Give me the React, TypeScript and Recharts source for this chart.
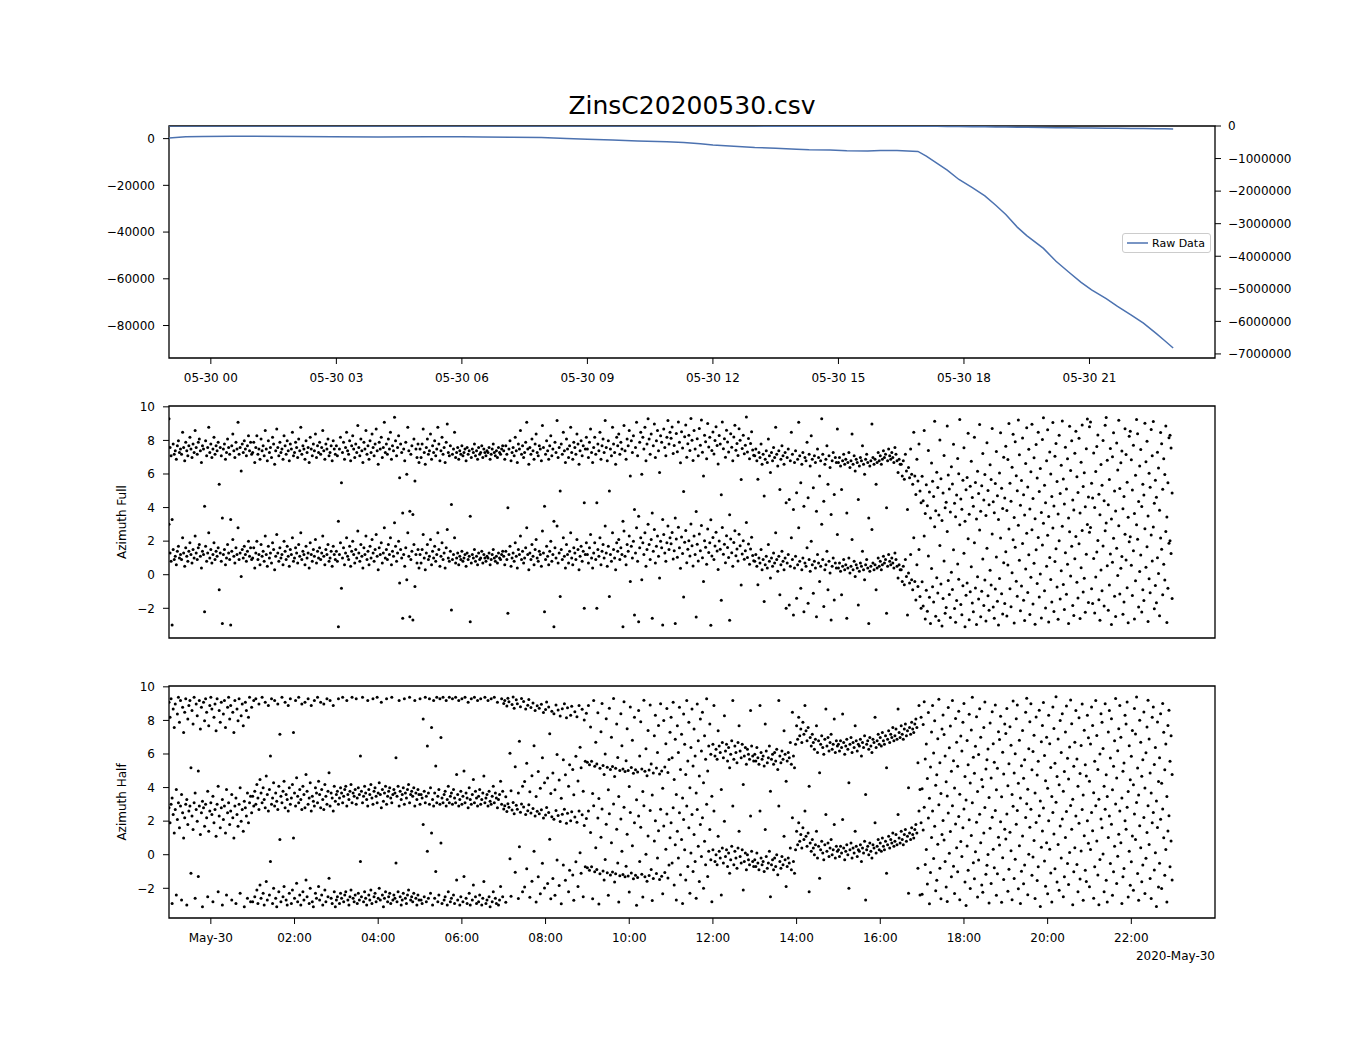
import React from 'react';
import {
  ComposedChart,
  Line,
  ScatterChart,
  Scatter,
  XAxis,
  YAxis,
  ReferenceArea,
  Legend,
} from 'recharts';

const FONT = '"DejaVu Sans", "Liberation Sans", sans-serif';
const TITLE = 'ZinsC20200530.csv';
const LINE_COLOR = '#4c72b0';
const SERIES_NAME = 'Raw Data';

// x axis: hours relative to 2020-05-30 00:00
const X_DOMAIN: [number, number] = [-1, 24];
const TOP_X_TICKS = [0, 3, 6, 9, 12, 15, 18, 21];
const TOP_X_LABELS = ['05-30 00', '05-30 03', '05-30 06', '05-30 09', '05-30 12', '05-30 15', '05-30 18', '05-30 21'];
const AZ_X_TICKS = [0, 2, 4, 6, 8, 10, 12, 14, 16, 18, 20, 22];
const AZ_X_LABELS = ['May-30', '02:00', '04:00', '06:00', '08:00', '10:00', '12:00', '14:00', '16:00', '18:00', '20:00', '22:00'];
const AZ_X_OFFSET_LABEL = '2020-May-30';

const LEFT_TICKS = [0, -20000, -40000, -60000, -80000];
const RIGHT_TICKS = [0, -1000000, -2000000, -3000000, -4000000, -5000000, -6000000, -7000000];
const AZ_Y_TICKS = [-2, 0, 2, 4, 6, 8, 10];
const LEFT_DOMAIN: [number, number] = [-93900, 5400];
const RIGHT_DOMAIN: [number, number] = [-7125000, 0];
const AZ_DOMAIN: [number, number] = [-3.77, 10.05];

// Raw data line (hour, value)
const rawHours = [
  -1.0, -0.6, -0.2, 0.5, 1.0, 2.0, 2.9, 4.0, 5.2, 6.0, 6.5, 7.2, 7.9, 8.5, 9.0, 9.6, 10.2, 10.9, 11.3, 11.7,
  12.0, 12.5, 13.0, 13.5, 14.0, 14.3, 14.8, 15.2, 15.7, 16.0, 16.4, 16.9, 17.1, 17.35, 17.6, 17.88, 18.2, 18.5,
  18.76, 19.0, 19.28, 19.5, 19.9, 20.2, 20.53, 20.8, 21.05, 21.4, 21.67, 22.0, 22.29, 22.6, 22.8, 23.0,
];
const rawValues = [
  300, 800, 900, 1000, 1050, 950, 750, 700, 800, 750, 700, 600, 450, 100, -300, -600, -1000, -1300, -1700, -2200,
  -2700, -3300, -3800, -4100, -4500, -4800, -4900, -5200, -5300, -5100, -5100, -5500, -7500, -10500, -13500, -17500,
  -21000, -24500, -28500, -32500, -38000, -41500, -47000, -52500, -57500, -61500, -64700, -68500, -71800, -75500,
  -79000, -83500, -86500, -89600,
];

// Azimuth Full: base angles (rad), one array per 2-hour block starting 23:00
const fullAz0 = [3.0, 1.3, 0.8, -3.0, 1.5, 0.9, 1.1, 0.6, 1.4, 1.7, 1.0, 1.2, 0.9, 2.2, 1.3, 0.5, 1.6, 1.1, 0.8, 1.4, 1.9, 1.2, 0.7, 1.5, 1.0, 2.3, 1.3, 0.9, 1.6, 1.8, 1.1, 0.4, 1.4, 1.2, -2.2, 1.7, 0.8, 1.3, 2.5, 1.0, 1.5, 0.7, 1.2, 1.9, 0.9, 1.4, 1.1, 1.6, -0.9, 1.3, 0.8, -2.9, 1.2, 1.5, 0.6, 1.0, 1.8, 1.3, 0.9, -3.0, 1.4, 2.1, 1.1, 0.7, 1.6, 1.2, 2.8, 0.9, 1.3, -0.1, 1.5, 1.0, 1.7, 1.2, 0.8, 1.4, 2.0, 1.1, 1.6, 0.9];
const fullAz1 = [1.0, 1.6, 0.4, 1.3, 2.0, 0.9, 1.2, 0.6, 1.8, 1.1, 1.4, 0.8, 2.3, 1.2, 0.5, 1.7, 1.0, 1.3, 0.7, 1.9, 1.5, 0.3, 1.1, 2.4, 1.3, 0.8, 1.6, 1.0, 1.2, 0.6, 2.0, 1.4, 0.9, 1.7, 1.1, 0.5, 1.5, 1.2, 2.2, 0.8, 1.0, 1.6, 1.3, 0.7, 1.8, 1.1, 2.5, 0.9, 1.4, 1.2, 0.6, 1.7, 1.0, 1.3, 0.4, 1.9, 1.2, 0.8, 1.5, 1.1, 2.1, 0.7, 1.4, 1.0, 1.6, 0.9, 1.3, 2.3, 1.1, 0.6, 1.5, 1.2, 1.8, 0.8, 1.0, 1.4, 0.5, 1.7, 1.2, 0.9];
const fullAz2 = [1.4, 0.8, -3.1, 1.2, 1.9, -0.8, 1.0, 1.6, 0.6, 1.3, 2.2, 1.1, 0.9, 1.7, 0.5, 1.4, 2.0, 1.2, 0.7, 1.5, 1.0, 2.6, 1.3, 0.8, 1.8, 1.1, 0.4, 1.6, 1.2, 2.3, 0.9, 1.4, 0.6, 1.7, 1.0, 2.1, 1.3, 0.8, 1.5, 2.4, 1.1, 0.3, 1.6, 1.2, 1.9, 0.7, 1.3, 2.8, 1.0, 1.5, 0.9, 1.8, 1.2, 2.2, 0.6, 1.4, 1.1, 3.1, 1.7, 0.8, 1.3, 2.0, -0.5, 1.5, 1.0, -2.6, 1.2, 0.5, 1.6, -0.3, 2.5, 1.1, -2.5, 0.9, 1.4, -2.7, 1.8, -0.7, 1.2, 0.7, 1.5, 0.4];
const fullAz3 = [1.2, 0.7, 1.5, 2.4, 1.0, 0.3, 1.3, 1.8, 0.9, 1.1, 2.1, 0.6, 1.4, 1.0, 1.7, 0.8, 1.2, 2.5, 1.5, 0.5, 1.1, 1.9, 0.9, 1.3, 0.4, 1.6, 2.7, 1.0, 0.8, 1.4, -2.1, 0.9, 1.2, 2.2, 0.7, 1.0, 1.3, 0.6, 1.1, 0.9, 1.4, 0.8, 1.0, 1.2, 0.5, 1.3, 0.9, 1.1, -2.8, 0.7, 1.2, 1.0, 1.5, 0.8, 1.1, 0.6, 1.3, 0.9, 1.0, 1.4, 0.7, 1.2, 1.0, 0.8, 1.1, 1.0, 1.3, 0.6, 0.9, 1.2, 1.5, 1.0, 0.8, 1.1, 0.7, 1.3, 1.0, 0.9, 1.2, 1.4];
const fullAz4 = [1.1, 0.6, 1.4, 0.9, -2.3, 1.2, 1.7, 0.5, 1.0, 1.3, 0.8, 1.9, 1.1, 0.4, 1.5, 1.2, 2.3, 0.9, 1.4, 0.7, 1.0, 1.6, 2.8, 1.2, 0.3, 1.3, 0.9, 1.8, 1.1, 0.6, 1.5, 2.1, 1.0, 0.8, 1.4, 1.2, 0.5, 2.6, 1.3, -2.2, 0.9, 1.7, 1.1, 0.6, 1.4, 2.0, 0.8, 1.2, -3.1, 1.6, 1.0, 2.9, 0.7, 1.3, -1.3, 1.5, 0.9, 2.2, 1.1, 0.4, 1.8, 1.2, 0.7, 1.4, 2.5, 1.0, 0.6, 1.6, 1.3, 0.9, 2.1, 1.5, 0.3, 1.1, 1.7, 0.8, 1.4, -2.0, 1.2, 1.9];
const fullAz5 = [1.2, 0.7, 1.6, 2.4, 1.0, 0.4, 1.3, 1.9, 0.9, -2.0, 1.5, 1.1, 2.2, 0.6, 1.4, 1.8, 1.0, 2.9, 1.3, 0.5, 1.7, -1.3, 1.2, 0.8, 2.5, 1.5, 1.0, 0.3, 1.9, 1.4, 2.1, 0.9, 1.6, 1.2, -3.1, 2.6, 1.1, 0.6, 1.8, 1.4, 2.3, -0.4, 1.7, 1.0, 2.0, -2.4, 1.3, 2.8, 0.8, -2.8, 1.6, 2.2, -0.3, 1.9, 1.2, 2.5, 0.5, 1.5, 3.0, 1.8, 0.9, 2.1, -2.6, 1.4, 2.7, 0.7, 1.7, 2.3, 1.1, -0.2, 2.0, 1.6, -3.0, 2.4, 1.3, 0.8, 1.9, 2.9, 1.5, 2.2];
const fullAz6 = [1.84, 2.51, 0.93, 1.42, -2.91, 2.13, 1.04, 2.82, 1.61, 0.38, 2.24, 1.27, -1.33, 1.93, 2.64, 0.71, 1.52, 2.03, 1.12, 3.02, 1.73, 0.52, 2.31, 1.21, -2.52, 1.82, 0.81, 2.42, 1.43, 2.93, 1.01, -0.41, 2.02, 1.63, 0.62, 2.72, 1.32, 1.91, -3.01, 1.11, 2.22, 0.91, 1.71, 2.53, 1.41, 0.31, 2.01, 1.51, -1.52, 2.81, 1.22, 1.81, 0.72, 2.32, 1.62, 1.02, -2.71, 2.12, 1.31, 0.51, 1.92, 2.62, 1.13, 1.53, 0.82, 2.41, 1.72, -0.61, 1.23, 2.03, 0.92, 1.43, 3.11, 1.03, 1.83, 0.63, 1.53, 2.23, 1.14, 0.83];
const fullAz7 = [0.8, 1.2, 0.5, -0.6, 1.0, 0.7, 1.5, 0.3, 0.9, -1.6, 0.6, 1.1, 0.4, 1.8, 0.8, -0.2, 1.0, 0.5, 1.3, 0.7, 2.5, 0.9, 0.2, 1.1, -1.2, 0.6, 1.4, 0.8, 0.3, 1.0, -2.0, 0.7, 1.2, -1.8, 0.5, 2.2, 0.9, -2.4, 0.4, 1.1, -1.4, 0.6, 2.8, 0.8, -0.8, 0.3, 1.0, -2.2, 0.7, 0.5, 1.6, -1.7, 0.9, 0.2, 2.0, 0.6, -1.1, 0.8, 0.4, -2.5, 1.2, 0.7, -0.4, 0.5, 3.0, 0.9, -1.9, 0.3, 0.6, 1.4, -0.9, 0.8, 0.1, -2.7, 0.5, 1.0, -1.5, 0.7, 0.4, 2.4];
const fullAz8 = [0.4, 0.7, 0.2, -1.2, 0.5, 0.9, 0.3, 0.6, -2.6, 0.4, 1.0, 0.1, 0.5, 2.1, 0.3, 0.8, -0.1, 0.6, 0.4, -1.8, 0.2, 0.7, 0.5, 1.4, 0.3, -0.3, 0.6, 0.9, 0.4, -2.9, 0.2, 0.5, 2.7, 0.7, 0.3, 0.6, -0.9, 0.4, 1.0, 0.5, 0.8, 0.3, 0.6, 1.1, 0.7, 0.9, -2.3, 0.5, 1.2, 0.8, 0.6, 1.0, 0.7, 0.4, 1.3, 0.9, 0.5, -0.2, 0.6, 0.3, 0.3, -0.4, 0.5, -0.6, 0.9, -0.1, -2.4, 0.1, -0.5, 1.2, -0.3, -0.9, 2.2, -0.4, -1.5, 0.6, -0.7, 1.5, -1.3, -2.0];
const fullAz9 = [-0.42, -1.87, 2.31, -2.64, -0.93, -2.18, 1.12, -1.35, -2.91, 0.37, -0.71, -1.62, 2.86, -2.47, -0.18, -1.09, -2.73, 1.74, -0.56, -3.05, -1.41, 0.82, -2.29, -1.96, 2.58, -0.34, -1.18, -2.55, 0.15, -0.88, 1.49, -2.02, -2.83, -1.53, 0.64, -0.27, 2.97, -1.77, -2.38, -0.66, 1.28, -3.1, -1.22, -0.49, 2.14, -2.68, -1.01, 0.47, -1.69, -2.21, 1.91, -0.79, -2.96, -0.12, -1.44, 2.66, -2.51, -0.98, 0.93, -1.83, -0.31, -2.76, 1.58, -1.26, -2.12, 0.26, -0.61, 2.43, -1.93, -2.59, -0.85, 1.05, -1.58, -3.0, -0.22, 2.18, -1.14, -2.34, 0.71, -1.72];
const fullAz10 = [1.37, -2.46, 0.58, 2.72, -0.84, -1.91, 0.12, 2.09, -2.88, 1.63, -0.39, -1.28, 2.94, 0.86, -2.15, -0.67, 1.86, -1.52, -2.73, 0.34, 2.47, -1.06, 1.19, -2.37, -0.15, 2.68, -1.74, 0.69, -2.95, 1.48, -0.52, 2.21, -1.33, 0.04, -2.58, 1.77, 3.06, -0.96, -1.99, 0.51, 2.35, -2.81, 1.02, -0.29, -1.62, 2.79, -2.19, 0.78, 1.54, -0.73, -2.66, 2.03, -1.45, 0.23, 2.88, -0.58, -2.07, 1.31, -1.17, 0.62, -2.9, 2.56, -0.08, 1.69, -1.84, -2.43, 0.95, 2.27, -0.45, -1.38, 1.84, -2.61, 0.41, 2.63, -1.03, -0.21, -2.24, 1.22, 2.99, -1.66];
const fullAz11 = [2.53, 2.81, -0.83, -1.71, 0.97, -2.28, -0.14, 1.36, 2.04, -1.49, -2.71, 0.28, -0.95, 1.71, -1.87, 2.62, 3.08, 0.53, -2.12, -0.61, 1.24, -2.97, 0.74, 2.17, -1.29, -2.49, 1.57, -0.04, 2.92, -1.15, 0.39, 1.08, -2.35, -1.63, 2.41, 0.88, -0.77, -2.86, 1.96, 2.26, 0.57, -1.24, 1.43, -2.64, -0.36, 2.97, 2.11, -1.92, 0.19, 1.18, -2.22, -0.89, -1.54, 2.74, 0.44, 1.66, -2.78, -0.24, -1.08, 2.36, 0.81, 2.84, -2.03, -0.65, -1.67, 1.01, 0.07, -2.44, 2.19, 1.52, -1.19, 0.63, -0.31, 2.57, -2.84, -0.81, 1.88, 2.02, 1.27, -1.41];

// Azimuth Half: base angles (rad), one array per 2-hour block starting 23:00
const halfAz0 = [2.8, 1.9, 3.0, -2.9, 2.4, 1.3, 2.7, -2.4, 2.1, 3.1, 1.6, 2.9, -2.7, 2.5, 1.0, 2.2, 3.0, -3.0, 1.8, 2.6, 2.9, -1.1, 2.3, 1.5, 3.1, -2.6, 2.7, 2.0, -1.3, 2.9, 1.2, 2.5, -3.1, 2.8, 1.7, 3.0, 2.2, -2.5, 1.4, 2.6, 3.1, 2.4, -2.8, 1.9, 2.7, 1.1, 3.0, -2.2, 2.3, 1.6, 2.8, -3.0, 2.1, 2.9, 1.3, -2.4, 2.5, 3.1, 1.8, 2.6, -2.7, 2.2, 1.0, 2.9, -2.9, 2.4, 1.7, 3.0, -2.3, 2.0, 2.7, 1.4, -3.1, 2.8, 2.3, -2.6, 1.9, 3.1, -2.8, 2.5];
const halfAz1 = [-2.8, 2.9, -2.5, 3.0, -2.1, -2.9, 2.7, -1.8, -2.6, 3.1, -2.3, -3.0, 2.8, -1.6, -2.7, 2.6, -2.4, -0.4, 3.0, -2.9, -2.0, 2.9, -2.6, -3.1, 2.7, -2.2, 0.9, -2.8, 3.1, -2.5, -1.9, 2.8, -2.7, -3.0, 2.6, -2.3, 3.0, -2.9, -2.1, 1.0, -2.6, 2.9, -1.7, -2.8, 3.1, -2.4, -3.0, 2.7, -2.2, -2.7, 2.8, -1.5, -2.5, 3.0, -2.9, -2.0, 2.6, -2.8, -3.1, 2.9, -2.3, -2.6, 3.1, -1.9, -2.7, 2.8, -2.4, -3.0, 2.7, -2.1, -2.8, 3.0, -2.5, -1.4, 2.9, -2.6, -2.9, 2.6, -2.2, -3.1];
const halfAz2 = [-2.7, -2.5, 3.0, -2.9, -2.3, -2.6, 3.1, -2.8, -2.4, -2.2, 2.9, -2.7, -3.0, -2.5, -2.1, 3.1, -2.6, -2.8, -2.4, 3.0, -2.9, -2.3, -2.7, -0.4, -2.5, 3.1, -2.8, -2.2, -2.6, -3.0, 2.9, -2.4, -2.7, -2.1, -2.9, 3.0, -2.5, -2.3, -2.8, 3.1, -2.6, -2.0, -2.7, 2.8, -2.4, -3.1, -2.6, -2.2, 3.0, -2.8, -2.5, -2.3, -2.9, 3.1, -2.7, -2.4, -2.6, -0.5, -2.8, -2.2, 2.9, -2.5, -3.0, -2.7, -2.3, 3.0, -2.6, -2.9, -2.4, -2.1, 3.1, -2.7, -2.5, -2.8, -2.3, 2.9, -2.6, -3.0, -2.4, -2.7];
const halfAz3 = [3.0, -2.7, -2.9, 1.8, -2.5, 3.1, -2.8, 0.2, -2.6, 3.0, -2.3, 1.3, -3.0, 2.9, -2.6, -1.0, 3.1, -2.8, -2.4, 3.0, 0.7, -2.9, 3.1, -2.7, -2.5, 2.9, -3.0, -2.2, 3.1, -2.8, -2.6, 3.0, -2.4, -2.9, 3.1, -1.5, -2.7, 2.9, -3.0, -2.5, 3.0, -2.8, -1.3, 3.1, -2.6, -2.9, 2.8, -2.3, -3.0, 3.0, -2.7, -1.8, 3.1, -2.5, -2.9, 2.9, -2.8, -2.4, 3.0, -3.0, -2.6, -1.6, 3.1, -2.9, -2.7, 2.9, -2.5, -3.1, 3.0, -2.8, -2.2, 3.1, -2.6, -2.9, 2.8, -3.0, -2.7, -1.9, 3.0, -2.5];
const halfAz4 = [2.72, 2.91, -2.83, 2.58, 3.04, 2.83, -0.24, -2.47, 2.66, 3.11, 2.44, -1.04, 2.95, 2.71, -2.61, 0.47, 2.53, 3.02, -2.21, 2.84, -1.92, 2.39, -0.83, 2.62, 2.97, -2.54, 2.48, -1.58, 2.76, 0.21, 2.31, -2.81, 2.59, -1.32, 2.44, -2.33, 2.68, -0.51, 2.19, -1.99, 2.37, 2.81, -1.71, 2.52, 0.92, -2.63, 2.26, -1.41, 2.11, -2.42, 2.63, -0.31, 2.34, -1.83, 1.98, -2.92, 2.41, -0.62, 2.71, -1.52, 1.87, 2.47, -2.21, -0.93, 2.03, 2.56, -1.21, -2.71, 2.24, -0.42, 1.93, -1.89, 2.61, 0.12, -1.11, 2.38, -2.51, 1.74, -0.71, 2.15];
const halfAz5 = [-0.78, 2.61, -0.92, 1.33, -0.71, -2.63, 2.91, -1.02, 0.42, -0.88, 2.18, -2.94, -1.13, 1.04, 2.73, -0.97, -1.51, -0.28, 1.82, -1.08, -2.41, 2.44, -1.21, 0.72, -1.03, 3.02, -1.62, -1.14, 1.51, -0.49, -2.81, -1.26, 2.12, 0.21, -1.18, 2.83, -1.32, -0.68, 1.22, -1.27, -2.22, 2.51, -1.09, 0.53, -1.43, 1.91, -1.22, -3.01, -1.36, 2.31, -0.41, 1.63, -1.17, -2.52, 2.92, -1.31, 0.03, -1.58, 1.12, -1.24, 2.64, -0.88, -2.73, -1.42, 0.81, 2.02, -1.12, -0.19, 1.42, -1.48, 2.71, -1.29, -2.33, 1.71, -1.06, 0.32, 2.43, -1.38, -0.61, 1.01];
const halfAz6 = [1.9, -0.5, 2.8, -1.8, 0.6, -2.7, 1.4, -0.2, 2.5, -1.2, 0.9, -2.9, 2.1, 0.3, -1.5, 2.9, -0.7, 1.6, -2.3, 0.1, 2.4, -1.0, 1.2, -0.4, -2.6, 2.7, 0.5, -1.6, 1.8, -0.1, 2.2, -2.0, 0.8, -0.6, 3.0, -1.3, 0.2, 1.5, -0.3, -2.8, 0.3, 2.6, -0.4, 0.0, -0.6, 1.1, 0.2, -0.2, -2.4, 0.4, -0.5, 2.0, -0.1, 0.3, -0.7, 0.1, -1.1, -0.3, 0.5, 2.9, -0.6, 0.2, -0.2, -0.8, 0.4, 1.4, -0.1, -0.5, 0.3, -2.1, -0.4, 0.1, -0.9, 0.0, -0.3, -0.6, 2.3, 0.2, -0.4, -0.7];
const halfAz7 = [-0.3, -0.7, 0.1, -0.5, -0.9, 2.6, -0.2, -0.6, -0.4, -1.0, 1.5, -0.1, -0.8, -0.5, 0.2, -2.5, -0.6, -0.3, -0.9, -0.2, -0.7, 0.0, -1.2, 2.9, -0.4, -0.8, -0.1, -0.6, 1.1, -0.3, -1.9, -0.7, -0.2, -0.5, 0.4, -0.9, 2.2, -0.4, -1.1, 0.3, 1.4, 0.6, 1.9, 0.8, 1.2, 0.4, 1.6, 0.9, 2.6, 1.1, 0.5, 1.3, -2.2, 0.7, 0.2, 0.9, 0.4, 0.0, 0.6, 1.4, -0.2, 0.5, -1.4, 0.3, 0.8, 0.1, -0.3, 0.6, 2.4, 0.2, 0.7, -0.1, 0.4, 0.9, 0.0, 0.3, 1.8, -0.2, 0.5, 0.2];
const halfAz8 = [0.3, -0.1, 0.5, 0.1, 2.1, 0.4, -0.3, 0.2, 0.6, 0.0, -2.0, 0.3, 0.7, -0.2, 0.4, 0.1, 1.4, 0.5, -0.1, 0.3, 0.2, 0.6, -0.4, 0.4, 0.1, 0.8, -2.7, 0.3, 0.5, 0.0, 0.7, 0.2, -0.2, 0.6, 0.4, 1.9, 0.1, 0.5, 0.9, 0.3, 0.7, 0.2, 1.0, 0.5, 0.3, 0.8, -1.1, 0.6, 1.1, 0.4, 0.9, 0.7, 1.3, 0.5, 0.8, 1.2, 0.6, 2.4, 1.0, 0.7, 1.4, 0.9, 0.6, 1.2, 1.5, 0.8, 1.1, -2.3, 1.3, 0.9, 1.6, 1.2, 1.0, 1.5, 1.8, 1.3, -0.8, 2.6, -2.4, 1.9];
const halfAz9 = [-2.36, 1.47, 2.83, -0.58, 0.31, -1.74, 2.19, -2.92, -1.06, 1.02, 2.61, -0.23, 1.69, -2.14, -1.52, 0.63, 2.98, -0.81, -2.63, 1.21, 2.04, 0.88, -0.41, -1.93, -2.79, 2.49, 0.09, 1.38, -1.31, 2.91, -0.69, -2.31, 1.83, 0.42, -1.02, 2.27, -2.68, 0.79, -0.11, 1.61, 2.72, -1.63, -3.02, 0.52, -0.92, 2.08, -2.01, 1.14, 3.1, -0.48, -1.43, 0.18, 1.93, -2.52, -0.32, 2.41, 0.71, -1.81, -2.23, 1.29, 2.81, -1.17, -0.63, 0.02, -2.88, 1.57, -1.72, 2.23, 0.33, -0.77, 2.64, -2.42, -1.13, 1.04, 0.58, 1.97, -2.83, -0.18, -1.48, 1.51];
const halfAz10 = [0.93, 2.42, -2.18, -0.87, 1.34, 0.24, -2.69, 2.88, -1.41, -0.27, 1.82, 2.63, -2.03, 0.54, -2.91, -0.98, 1.12, -1.73, -0.62, 2.21, 3.04, -2.38, 0.03, 1.64, 2.71, -1.22, -0.13, 0.84, -2.61, 1.92, -1.54, -0.71, 2.32, -3.08, 0.44, 1.41, 2.79, -0.38, -1.88, 0.72, -2.33, 2.02, 0.33, -1.09, -2.82, 2.52, 1.23, -0.83, 3.12, -1.62, 0.61, -2.12, 1.71, -0.19, 2.12, -2.51, -1.32, 1.03, 2.58, -0.53, -1.78, 0.13, 2.93, 1.52, -2.98, -1.01, 0.42, 2.31, -0.58, -2.21, 1.88, -1.44, 0.22, 2.69, -2.72, 1.13, -0.92, -1.59, 2.03, 0.68];
const halfAz11 = [-1.91, 0.31, 2.52, 1.42, -2.59, -0.71, 2.91, 0.82, -1.21, -2.98, -0.29, 2.12, 1.61, 0.04, -2.21, 2.71, -1.52, -2.82, 1.03, 2.31, -0.52, 1.81, -2.41, -1.02, 0.51, 3.02, -1.71, -0.09, 1.22, 2.61, 0.71, -2.91, -1.31, -0.82, 2.02, 1.51, 2.82, -2.52, 0.21, -1.82, -0.42, 1.12, -2.11, 2.42, 0.91, 3.11, -1.12, -2.72, 1.72, 0.41, -1.61, -0.62, 2.22, -2.31, -0.21, 1.32, 2.92, 0.61, -1.41, -2.61, 1.91, 2.51, -0.91, 0.11, -3.08, 1.62, -1.92, -0.51, 2.11, -2.02, 2.72, 1.01, -1.22, 0.31, -2.81, 1.41, 2.32, -0.71, 0.81, -1.51];

const fullBlocks = [fullAz0, fullAz1, fullAz2, fullAz3, fullAz4, fullAz5, fullAz6, fullAz7, fullAz8, fullAz9, fullAz10, fullAz11];
const halfBlocks = [halfAz0, halfAz1, halfAz2, halfAz3, halfAz4, halfAz5, halfAz6, halfAz7, halfAz8, halfAz9, halfAz10, halfAz11];
const BLOCK_START = -1;
const BLOCK_SPAN = 2;

// each azimuth sample is drawn at its angle and again one turn (2π) higher, as in the source figure
function toPoints(blocks: number[][]) {
  const pts: { t: number; v: number }[] = [];
  blocks.forEach((blk, k) => {
    blk.forEach((a, i) => {
      const t = BLOCK_START + k * BLOCK_SPAN + (i * BLOCK_SPAN) / blk.length;
      pts.push({ t, v: a });
      pts.push({ t, v: a + 2 * Math.PI });
    });
  });
  return pts;
}

const rawData = rawHours.map((t, i) => ({ t, v: rawValues[i] }));
const fullPoints = toPoints(fullBlocks);
const halfPoints = toPoints(halfBlocks);

const tickStyle = { fill: '#000', fontSize: 12, fontFamily: FONT };
const tickLineStyle = { stroke: '#000', strokeWidth: 1 };
const fmtNum = (v: number) => (v < 0 ? '\u2212' + String(-v) : String(v));
const fmtTop = (v: number) => TOP_X_LABELS[TOP_X_TICKS.indexOf(v)] ?? '';
const fmtAz = (v: number) => AZ_X_LABELS[AZ_X_TICKS.indexOf(v)] ?? '';

const Dot = (props: any) =>
  props.cx == null || props.cy == null ? null : <circle cx={props.cx} cy={props.cy} r={1.5} fill="#000" />;

const LegendBox = (props: any) => {
  const items = (props.payload || []).filter((p: any) => p.type !== 'none');
  return (
    <div
      style={{
        width: 89,
        height: 20,
        border: '1px solid #cccccc',
        borderRadius: 3,
        background: 'rgba(255,255,255,0.8)',
        boxSizing: 'border-box',
        display: 'flex',
        alignItems: 'center',
        fontFamily: FONT,
        fontSize: 11,
        color: '#000',
      }}
    >
      {items.map((p: any, i: number) => (
        <React.Fragment key={i}>
          <svg width={29} height={18} style={{ display: 'block' }}>
            <line x1={4} x2={25} y1={9} y2={9} stroke={p.color} strokeWidth={1.5} />
          </svg>
          <span style={{ whiteSpace: 'nowrap' }}>{p.value}</span>
        </React.Fragment>
      ))}
    </div>
  );
};

const yLabel = (text: string) => ({
  content: (p: any) => {
    const vb = p.viewBox || { y: 0, height: 0 };
    return (
      <text
        transform={`translate(126, ${vb.y + vb.height / 2}) rotate(-90)`}
        textAnchor="middle"
        fontSize={12}
        fontFamily={FONT}
        fill="#000"
      >
        {text}
      </text>
    );
  },
});

const AzPanel = ({ points, label, showLabels }: { points: any[]; label: string; showLabels: boolean }) => (
  <ScatterChart
    width={1350}
    height={showLabels ? 320 : 260}
    margin={{ top: showLabels ? 26 : 6, right: 135, bottom: 0, left: 0 }}
  >
    <XAxis
      dataKey="t"
      type="number"
      domain={X_DOMAIN}
      ticks={AZ_X_TICKS}
      interval={0}
      allowDataOverflow
      height={showLabels ? 62 : 22}
      axisLine={false}
      tickLine={tickLineStyle}
      tickSize={6}
      tickMargin={9}
      tick={showLabels ? tickStyle : false}
      tickFormatter={fmtAz}
      label={
        showLabels
          ? {
              content: (p: any) => {
                const vb = p.viewBox || { x: 0, y: 0, width: 0 };
                return (
                  <text x={vb.x + vb.width} y={vb.y + 42} textAnchor="end" fontSize={12} fontFamily={FONT} fill="#000">
                    {AZ_X_OFFSET_LABEL}
                  </text>
                );
              },
            }
          : undefined
      }
    />
    <YAxis
      dataKey="v"
      type="number"
      domain={AZ_DOMAIN}
      ticks={AZ_Y_TICKS}
      interval={0}
      allowDataOverflow
      width={169}
      axisLine={false}
      tickLine={tickLineStyle}
      tickSize={6}
      tickMargin={8}
      tick={tickStyle}
      tickFormatter={fmtNum}
      label={yLabel(label)}
    />
    <ReferenceArea
      x1={X_DOMAIN[0]}
      x2={X_DOMAIN[1]}
      y1={AZ_DOMAIN[0]}
      y2={AZ_DOMAIN[1]}
      fill="none"
      stroke="#000"
      strokeWidth={1.3}
    />
    <Scatter data={points} shape={Dot} isAnimationActive={false} />
  </ScatterChart>
);

export default function App() {
  return (
    <div style={{ position: 'absolute', left: 0, top: 0, width: 1350, height: 1050, background: '#fff' }}>
      <div
        style={{
          position: 'absolute',
          left: 169,
          top: 93,
          width: 1046,
          textAlign: 'center',
          fontFamily: FONT,
          fontSize: 25,
          lineHeight: '25px',
          color: '#000',
        }}
      >
        {TITLE}
      </div>
      <div style={{ position: 'absolute', left: 0, top: 0 }}>
        <ComposedChart width={1350} height={400} data={rawData} margin={{ top: 126, right: 0, bottom: 0, left: 0 }}>
          <XAxis
            dataKey="t"
            type="number"
            domain={X_DOMAIN}
            ticks={TOP_X_TICKS}
            interval={0}
            allowDataOverflow
            height={42}
            axisLine={false}
            tickLine={tickLineStyle}
            tickSize={6}
            tickMargin={9}
            tick={tickStyle}
            tickFormatter={fmtTop}
          />
          <YAxis
            yAxisId="left"
            type="number"
            domain={LEFT_DOMAIN}
            ticks={LEFT_TICKS}
            interval={0}
            allowDataOverflow
            width={169}
            axisLine={false}
            tickLine={tickLineStyle}
            tickSize={6}
            tickMargin={8}
            tick={tickStyle}
            tickFormatter={fmtNum}
          />
          <YAxis
            yAxisId="right"
            orientation="right"
            type="number"
            domain={RIGHT_DOMAIN}
            ticks={RIGHT_TICKS}
            interval={0}
            allowDataOverflow
            width={135}
            axisLine={false}
            tickLine={tickLineStyle}
            tickSize={6}
            tickMargin={7}
            tick={tickStyle}
            tickFormatter={fmtNum}
          />
          <ReferenceArea
            yAxisId="left"
            x1={X_DOMAIN[0]}
            x2={X_DOMAIN[1]}
            y1={LEFT_DOMAIN[0]}
            y2={LEFT_DOMAIN[1]}
            fill="none"
            stroke="#000"
            strokeWidth={1.3}
          />
          <Line
            yAxisId="left"
            type="linear"
            dataKey="v"
            name={SERIES_NAME}
            stroke={LINE_COLOR}
            strokeWidth={1.5}
            dot={false}
            activeDot={false}
            isAnimationActive={false}
          />
          <Line
            yAxisId="right"
            type="linear"
            dataKey="v"
            name={SERIES_NAME + ' (right)'}
            legendType="none"
            stroke={LINE_COLOR}
            strokeWidth={1.5}
            dot={false}
            activeDot={false}
            isAnimationActive={false}
          />
          <Legend
            layout="horizontal"
            verticalAlign="middle"
            align="center"
            wrapperStyle={{ left: 1122, top: 233, width: 89, height: 20 }}
            content={LegendBox}
          />
        </ComposedChart>
      </div>
      <div style={{ position: 'absolute', left: 0, top: 400 }}>
        <AzPanel points={fullPoints} label="Azimuth Full" showLabels={false} />
      </div>
      <div style={{ position: 'absolute', left: 0, top: 660 }}>
        <AzPanel points={halfPoints} label="Azimuth Half" showLabels={true} />
      </div>
    </div>
  );
}
